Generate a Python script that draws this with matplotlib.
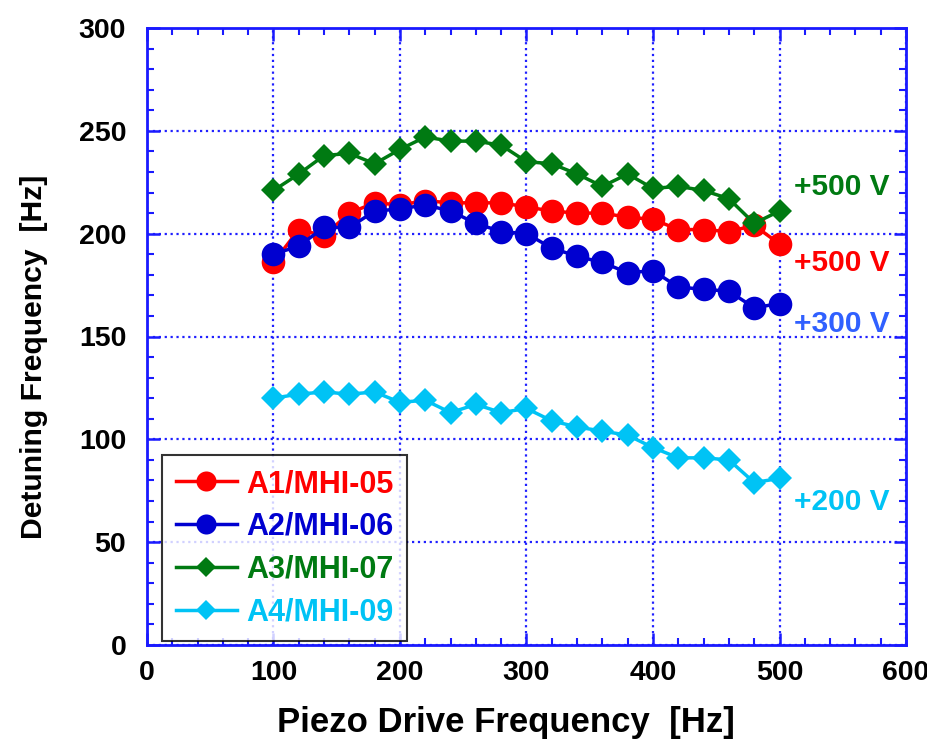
import matplotlib
matplotlib.use("Agg")
import matplotlib.pyplot as plt
from matplotlib.ticker import MultipleLocator

plt.rcParams['font.family'] = ['Liberation Sans', 'DejaVu Sans']
plt.rcParams['font.weight'] = 'bold'

freq = [100, 120, 140, 160, 180, 200, 220, 240, 260, 280, 300,
        320, 340, 360, 380, 400, 420, 440, 460, 480, 500]
a1_mhi05 = [186, 202, 199, 210, 215, 214, 216, 215, 215, 215, 213,
            211, 210, 210, 208, 207, 202, 202, 201, 204, 195]
a2_mhi06 = [190, 194, 203, 203, 211, 212, 214, 211, 205, 201, 200,
            193, 189, 186, 181, 182, 174, 173, 172, 164, 166]
a3_mhi07 = [221, 229, 238, 239, 234, 241, 247, 245, 245, 243, 235,
            234, 229, 223, 229, 222, 223, 221, 217, 205, 211]
a4_mhi09 = [120, 122, 123, 122, 123, 118, 119, 113, 117, 113, 115,
            109, 106, 104, 102, 96, 91, 91, 90, 79, 81]

series_names = ['A1/MHI-05', 'A2/MHI-06', 'A3/MHI-07', 'A4/MHI-09']
annot_texts = ['+500 V', '+500 V', '+300 V', '+200 V']

colors = ['#ff0000', '#0000d0', '#007a12', '#00c3f5']
markers = ['o', 'o', 'D', 'D']
msizes = [17, 17, 12.5, 12.5]

fig = plt.figure(figsize=(9.28, 7.45), dpi=100)
ax = fig.add_axes([147/928, 100/745, (906-147)/928, (645-28)/745])

for vals, name, c, m, ms in zip([a1_mhi05, a2_mhi06, a3_mhi07, a4_mhi09],
                                series_names, colors, markers, msizes):
    ax.plot(freq, vals, color=c, marker=m, markersize=ms, linewidth=2.5,
            label=name, markeredgewidth=0)

ax.set_xlim(0, 600)
ax.set_ylim(0, 300)
ax.xaxis.set_major_locator(MultipleLocator(100))
ax.xaxis.set_minor_locator(MultipleLocator(20))
ax.yaxis.set_major_locator(MultipleLocator(50))
ax.yaxis.set_minor_locator(MultipleLocator(10))

spine_color = '#1a1aff'
for s in ax.spines.values():
    s.set_color(spine_color)
    s.set_linewidth(2)
ax.tick_params(which='both', direction='in', top=True, right=True,
               color=spine_color, labelsize=20.5)
ax.tick_params(axis='x', which='major', pad=11)
ax.tick_params(axis='y', which='major', pad=15)
ax.tick_params(which='major', length=9, width=1.8)
ax.tick_params(which='minor', length=5, width=1.5)
for lab in ax.get_xticklabels() + ax.get_yticklabels():
    lab.set_fontweight('bold')

ax.grid(True, which='major', color='#2020ff', linestyle=':', linewidth=1.6)
ax.set_axisbelow(True)

ax.set_xlabel('Piezo Drive Frequency  [Hz]', fontsize=25, fontweight='bold',
              labelpad=14)
ax.set_ylabel('Detuning Frequency  [Hz]', fontsize=21.7, fontweight='bold',
              labelpad=22)
ax.xaxis.label.set_x(0.473)
ax.yaxis.label.set_y(0.467)

annot_colors = [colors[2], colors[0], '#3060ff', colors[3]]
annot_yv = [222.5, 185.5, 156, 69.5]
for txt, yv, c in zip(annot_texts, annot_yv, annot_colors):
    ax.text(587, yv, txt, color=c, fontsize=21.5, fontweight='bold',
            ha='right', va='center')

leg = ax.legend(loc='lower left', bbox_to_anchor=(0.02, 0.006),
                fontsize=22, frameon=True, fancybox=False,
                edgecolor='black', handlelength=2.0, handletextpad=0.3,
                borderpad=0.45, labelspacing=0.42, markerscale=0.85,
                borderaxespad=0)
leg.get_frame().set_linewidth(1.5)
for t, c in zip(leg.get_texts(), colors):
    t.set_color(c)
    t.set_fontweight('bold')

fig.savefig('out.png', dpi=100)
